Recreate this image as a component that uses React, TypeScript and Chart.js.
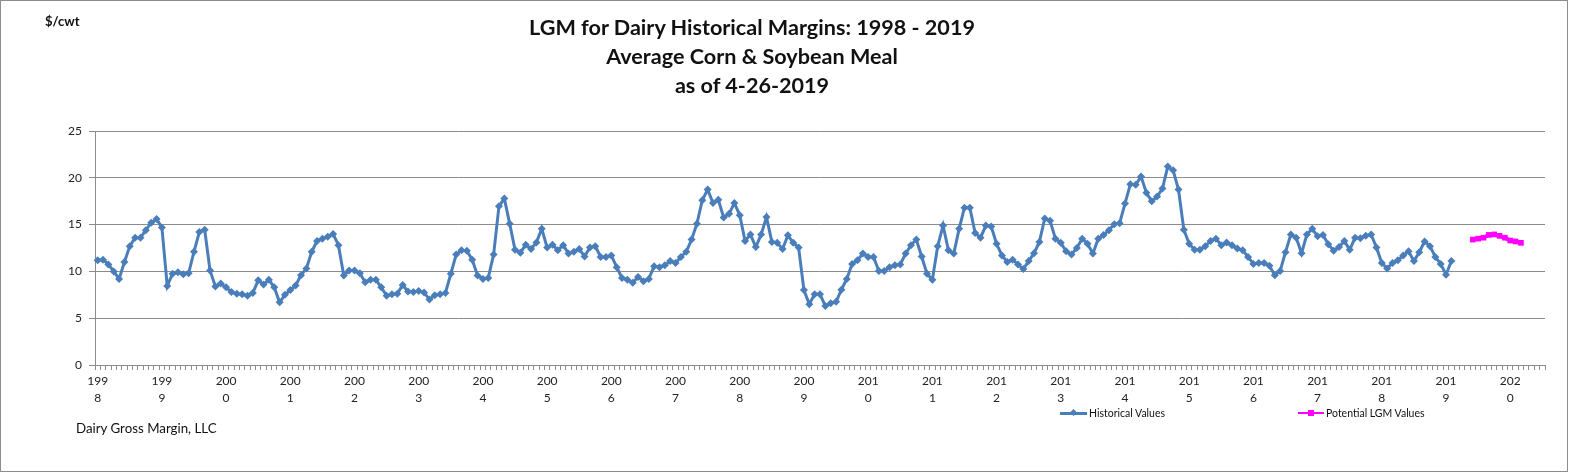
import React, { useEffect, useRef } from 'react';
import { Chart, registerables } from 'chart.js';

Chart.register(...registerables);

// years shown on the category axis (one category per month, Jan 1998 - Jul 2020)
const years = [
  '1998', '1999', '2000', '2001', '2002', '2003', '2004', '2005', '2006', '2007', '2008',
  '2009', '2010', '2011', '2012', '2013', '2014', '2015', '2016', '2017', '2018', '2019', '2020',
];
const monthsInLastYear = 7;

// historical margins, $/cwt, Jan 1998 - Feb 2019
const historical = [
  11.2, 11.25, 10.75, 10.0, 9.2, 11.0, 12.7, 13.6, 13.6, 14.4, 15.2, 15.6,
  14.7, 8.45, 9.75, 9.9, 9.7, 9.8, 12.1, 14.2, 14.45, 10.1, 8.4, 8.7,
  8.3, 7.8, 7.6, 7.55, 7.4, 7.7, 9.05, 8.6, 9.1, 8.3, 6.7, 7.5,
  8.0, 8.5, 9.6, 10.3, 12.1, 13.25, 13.5, 13.7, 14.0, 12.8, 9.55, 10.1,
  10.1, 9.8, 8.85, 9.1, 9.1, 8.3, 7.4, 7.55, 7.6, 8.55, 7.85, 7.8,
  7.9, 7.75, 7.0, 7.45, 7.55, 7.7, 9.75, 11.8, 12.25, 12.2, 11.25, 9.55,
  9.2, 9.3, 11.8, 16.95, 17.8, 15.1, 12.3, 12.0, 12.85, 12.4, 13.1, 14.55,
  12.55, 12.85, 12.25, 12.8, 11.9, 12.1, 12.4, 11.6, 12.55, 12.7, 11.55, 11.55,
  11.7, 10.45, 9.3, 9.1, 8.8, 9.4, 8.95, 9.2, 10.55, 10.45, 10.65, 11.1,
  10.9, 11.55, 12.1, 13.4, 15.1, 17.6, 18.75, 17.3, 17.65, 15.75, 16.15, 17.3,
  16.0, 13.25, 13.95, 12.6, 13.95, 15.8, 13.15, 13.05, 12.4, 13.85, 13.05, 12.55,
  8.0, 6.5, 7.55, 7.55, 6.3, 6.6, 6.75, 8.05, 9.2, 10.8, 11.2, 11.9,
  11.55, 11.55, 10.05, 10.05, 10.45, 10.65, 10.75, 11.9, 12.8, 13.4, 11.6, 9.75,
  9.1, 12.7, 14.9, 12.25, 11.9, 14.55, 16.8, 16.8, 14.1, 13.6, 14.9, 14.8,
  12.95, 11.7, 11.0, 11.25, 10.75, 10.25, 11.1, 11.95, 13.15, 15.65, 15.4, 13.5,
  13.05, 12.15, 11.8, 12.5, 13.5, 12.95, 11.9, 13.5, 13.9, 14.4, 15.05, 15.15,
  17.25, 19.3, 19.25, 20.15, 18.4, 17.5, 18.0, 18.85, 21.2, 20.8, 18.75, 14.45,
  12.95, 12.3, 12.3, 12.7, 13.25, 13.5, 12.8, 13.1, 12.8, 12.45, 12.25, 11.55,
  10.8, 10.9, 10.9, 10.6, 9.6, 10.05, 12.05, 13.95, 13.6, 11.95, 13.95, 14.55,
  13.75, 13.9, 12.9, 12.2, 12.6, 13.25, 12.3, 13.6, 13.55, 13.8, 13.95, 12.55,
  10.9, 10.3, 10.9, 11.2, 11.7, 12.15, 11.1, 12.05, 13.2, 12.7, 11.55, 10.8,
  9.65, 11.1,
];

// potential LGM margins, Jun 2019 - Mar 2020
const potentialStart = '2019-06';
const potential = [13.4, 13.5, 13.6, 13.9, 13.95, 13.8, 13.6, 13.3, 13.2, 13.05];

const yTicks = [0, 5, 10, 15, 20, 25];

const months: string[] = [];
years.forEach((y, yi) => {
  const n = yi === years.length - 1 ? monthsInLastYear : 12;
  for (let m = 1; m <= n; m++) months.push(`${y}-${String(m).padStart(2, '0')}`);
});

const FONT = 'Lato, "Open Sans", sans-serif';
const BLUE = '#4a7ebb';
const PINK = '#ff00ff';
const GRID = '#8c8c8c';

const App = () => {
  const canvasRef = useRef<HTMLCanvasElement>(null);

  useEffect(() => {
    document.body.style.margin = '0';
    const startIdx = months.indexOf(potentialStart);
    const potentialData = months.map((_, i) =>
      i >= startIdx && i < startIdx + potential.length ? potential[i - startIdx] : null
    );

    const chart = new Chart(canvasRef.current!, {
      type: 'line',
      data: {
        labels: months,
        datasets: [
          {
            label: 'Historical Values',
            data: historical,
            borderColor: BLUE,
            backgroundColor: BLUE,
            borderWidth: 3,
            pointStyle: 'rectRot',
            pointRadius: 4,
            pointBorderWidth: 0,
            tension: 0,
          },
          {
            label: 'Potential LGM Values',
            data: potentialData,
            borderColor: PINK,
            backgroundColor: PINK,
            borderWidth: 4,
            pointStyle: 'rect',
            pointRadius: 4,
            pointBorderWidth: 0,
            tension: 0,
          },
        ],
      },
      options: {
        animation: false,
        responsive: true,
        maintainAspectRatio: false,
        layout: { padding: { left: 0, top: 131, right: 24, bottom: 58 } },
        plugins: {
          legend: { display: false },
          title: { display: false },
          tooltip: { enabled: false },
        },
        scales: {
          x: {
            type: 'category',
            offset: true,
            grid: {
              offset: true,
              drawOnChartArea: false,
              drawTicks: true,
              tickLength: 5,
              color: GRID,
            },
            border: { color: GRID },
            ticks: {
              autoSkip: false,
              maxRotation: 0,
              minRotation: 0,
              padding: 2,
              color: '#222',
              font: { family: FONT, size: 12, lineHeight: 1.45 },
              callback: (_v: any, index: number) => {
                const lbl = months[index];
                if (!lbl.endsWith('-01')) return '';
                const y = lbl.slice(0, 4);
                return [y.slice(0, 3), y.slice(3)];
              },
            },
            afterFit: (scale: any) => {
              scale.height = 50;
            },
          },
          y: {
            min: 0,
            max: 25,
            afterBuildTicks: (scale: any) => {
              scale.ticks = yTicks.map((v) => ({ value: v }));
            },
            grid: { color: GRID, tickLength: 6 },
            border: { color: GRID },
            ticks: {
              padding: 7,
              color: '#222',
              font: { family: FONT, size: 12 },
            },
            afterFit: (scale: any) => {
              scale.width = 95;
            },
          },
        },
      },
    });

    return () => {
      chart.destroy();
    };
  }, []);

  const text: React.CSSProperties = { position: 'absolute', fontFamily: FONT, color: '#111', whiteSpace: 'nowrap' };

  return (
    <div style={{ position: 'relative', width: 1569, height: 473, background: '#fff', overflow: 'hidden' }}>
      <div style={{ position: 'absolute', left: 0, top: 0, width: 1569, height: 473 }}>
        <canvas ref={canvasRef}></canvas>
      </div>
      <div
        style={{
          position: 'absolute', left: 0, top: 0, width: 1568, height: 472,
          border: '1px solid #8c8c8c', boxSizing: 'border-box', pointerEvents: 'none',
        }}
      />
      <div style={{ ...text, left: 0, width: 1504, top: 13, textAlign: 'center', fontWeight: 700, fontSize: 21.6, lineHeight: '29px' }}>
        <div>LGM for Dairy Historical Margins: 1998 - 2019</div>
        <div>Average Corn &amp; Soybean Meal</div>
        <div>as of 4-26-2019</div>
      </div>
      <div style={{ ...text, left: 45, top: 13, fontWeight: 700, fontSize: 13 }}>$/cwt</div>
      <div style={{ ...text, left: 76, top: 420, fontSize: 13.3 }}>Dairy Gross Margin, LLC</div>
      <div style={{ ...text, left: 1060, top: 407, fontSize: 10.5, display: 'flex', alignItems: 'center' }}>
        <span style={{ position: 'relative', display: 'inline-block', width: 27, height: 3, background: BLUE, marginRight: 2 }}>
          <span style={{ position: 'absolute', left: 11, top: -2, width: 5, height: 5, background: BLUE, transform: 'rotate(45deg)' }} />
        </span>
        Historical Values
      </div>
      <div style={{ ...text, left: 1298, top: 407, fontSize: 10.5, display: 'flex', alignItems: 'center' }}>
        <span style={{ position: 'relative', display: 'inline-block', width: 26, height: 1.5, background: PINK, marginRight: 2 }}>
          <span style={{ position: 'absolute', left: 10, top: -2.5, width: 6, height: 6, background: PINK }} />
        </span>
        Potential LGM Values
      </div>
    </div>
  );
};

export default App;
